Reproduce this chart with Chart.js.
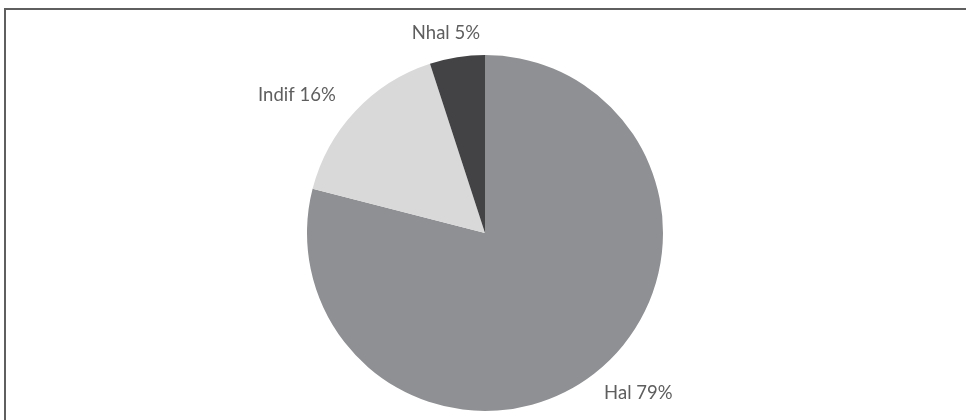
<!DOCTYPE html>
<html>
<head>
<meta charset="utf-8">
<script src="https://cdn.jsdelivr.net/npm/chart.js@4"></script>
<style>
  body { margin: 0; background: #fff; }
  #box {
    position: absolute; left: 4px; top: 8px; width: 1000px; height: 500px;
    border-top: 2px solid #5f5f5f; border-left: 2px solid #5f5f5f;
  }
  #wrap { position: absolute; left: 0; top: 0; width: 966px; height: 420px; }
</style>
</head>
<body>
<div id="box"></div>
<div id="wrap"><canvas id="myChart"></canvas></div>
<script>
const categories = ['Hal', 'Indif', 'Nhal']
const shares = [79, 16, 5]
const sliceColors = ['#8f9093', '#d9d9d9', '#434345']

// labels outside each slice, like excel "outside end"
const outsideLabels = {
    id: 'outsideLabels',
    afterDatasetsDraw(chart) {
        const ctx = chart.ctx
        ctx.save()
        ctx.font = '18.5px Lato'
        ctx.fillStyle = '#5e5e5e'
        ctx.textAlign = 'center'
        ctx.textBaseline = 'middle'
        chart.getDatasetMeta(0).data.forEach((arc, i) => {
            const mid = (arc.startAngle + arc.endAngle) / 2
            const ux = Math.cos(mid), uy = Math.sin(mid)
            const text = categories[i] + ' ' + shares[i] + '%'
            const w = ctx.measureText(text).width
            const d = arc.outerRadius + 14
            const x = arc.x + ux * d + ux * w * 0.85
            const y = arc.y + uy * d + uy * 10
            ctx.fillText(text, x, y)
        })
        ctx.restore()
    }
}

new Chart(document.getElementById('myChart'), {
    type: 'pie',
    data: {
        labels: categories,
        datasets: [{
            data: shares,
            backgroundColor: sliceColors,
            borderWidth: 0
        }]
    },
    options: {
        responsive: true,
        maintainAspectRatio: false,
        animation: false,
        layout: { padding: { left: 20, right: 16, top: 55, bottom: 9 } },
        plugins: {
            legend: { display: false },
            tooltip: { enabled: false }
        }
    },
    plugins: [outsideLabels]
})
</script>
</body>
</html>
